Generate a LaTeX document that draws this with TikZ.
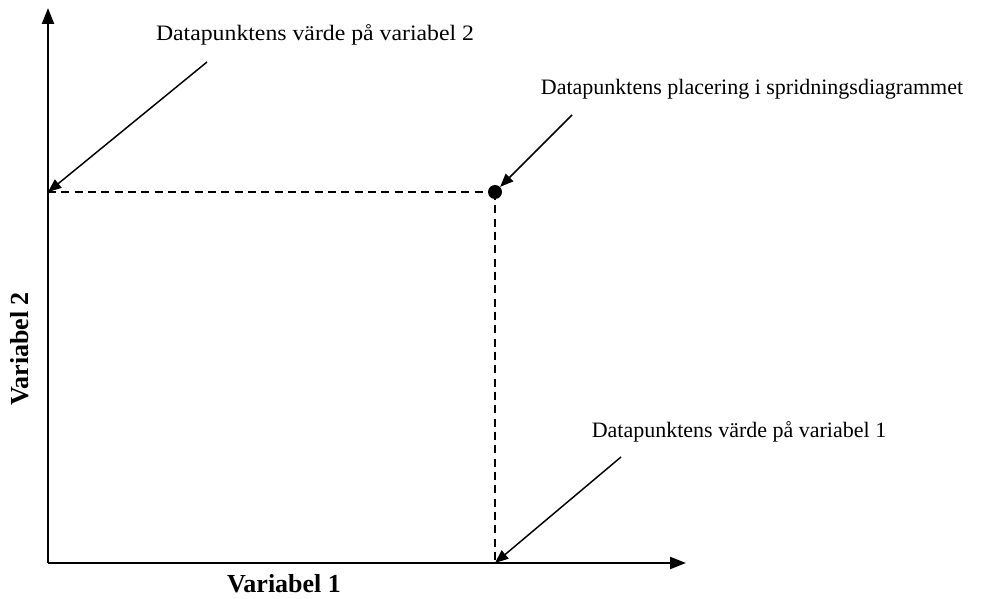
\documentclass[tikz,border=0pt]{standalone}
\usepackage{fontspec}
\setmainfont{Liberation Serif}
\usetikzlibrary{arrows.meta}
\begin{document}
\begin{tikzpicture}[x=0.75pt,y=-0.75pt,
  axis/.style={line width=1.6pt,-{Triangle[length=12pt,width=9pt]}},
  pointer/.style={line width=1.1pt,-{Triangle[length=10pt,width=8pt]}},
  guide/.style={line width=0.9pt,dash pattern=on 6pt off 4pt},
  note/.style={font=\fontsize{16.5}{18}\selectfont,inner sep=0pt},
  axlabel/.style={font=\fontsize{19.5}{21}\selectfont\bfseries,inner sep=0pt}]
\useasboundingbox (0,0) rectangle (1001,599);
% axes
\coordinate (O) at (48,563);
\coordinate (ytop) at (48,8);
\coordinate (xend) at (686,563);
\draw[axis] (O) -- (ytop);
\draw[axis] (O) -- (xend);
% data point and its projections
\coordinate (py) at (48,192);
\coordinate (px) at (495,563);
\node[circle,fill=black,inner sep=0pt,minimum size=10.5pt] (pt) at (495,192) {};
\draw[guide] (py) -- (pt.center);
\draw[guide] (pt.center) -- (px);
% annotations
\node[note,xscale=1.08] (l2) at (315,35) {Datapunktens värde på variabel 2};
\node[note] (lp) at (752,89) {Datapunktens placering i spridningsdiagrammet};
\node[note] (l1) at (739,432) {Datapunktens värde på variabel 1};
\coordinate (a2) at (207,62);
\coordinate (ap) at (572,115);
\coordinate (a1) at (621,457);
\draw[pointer] (a2) -- (py);
\draw[pointer] (ap) -- (pt);
\draw[pointer] (a1) -- (px);
% axis titles
\node[axlabel] (xl) at (284,584) {Variabel 1};
\node[axlabel,rotate=90] (yl) at (20,349) {Variabel 2};
\end{tikzpicture}
\end{document}
